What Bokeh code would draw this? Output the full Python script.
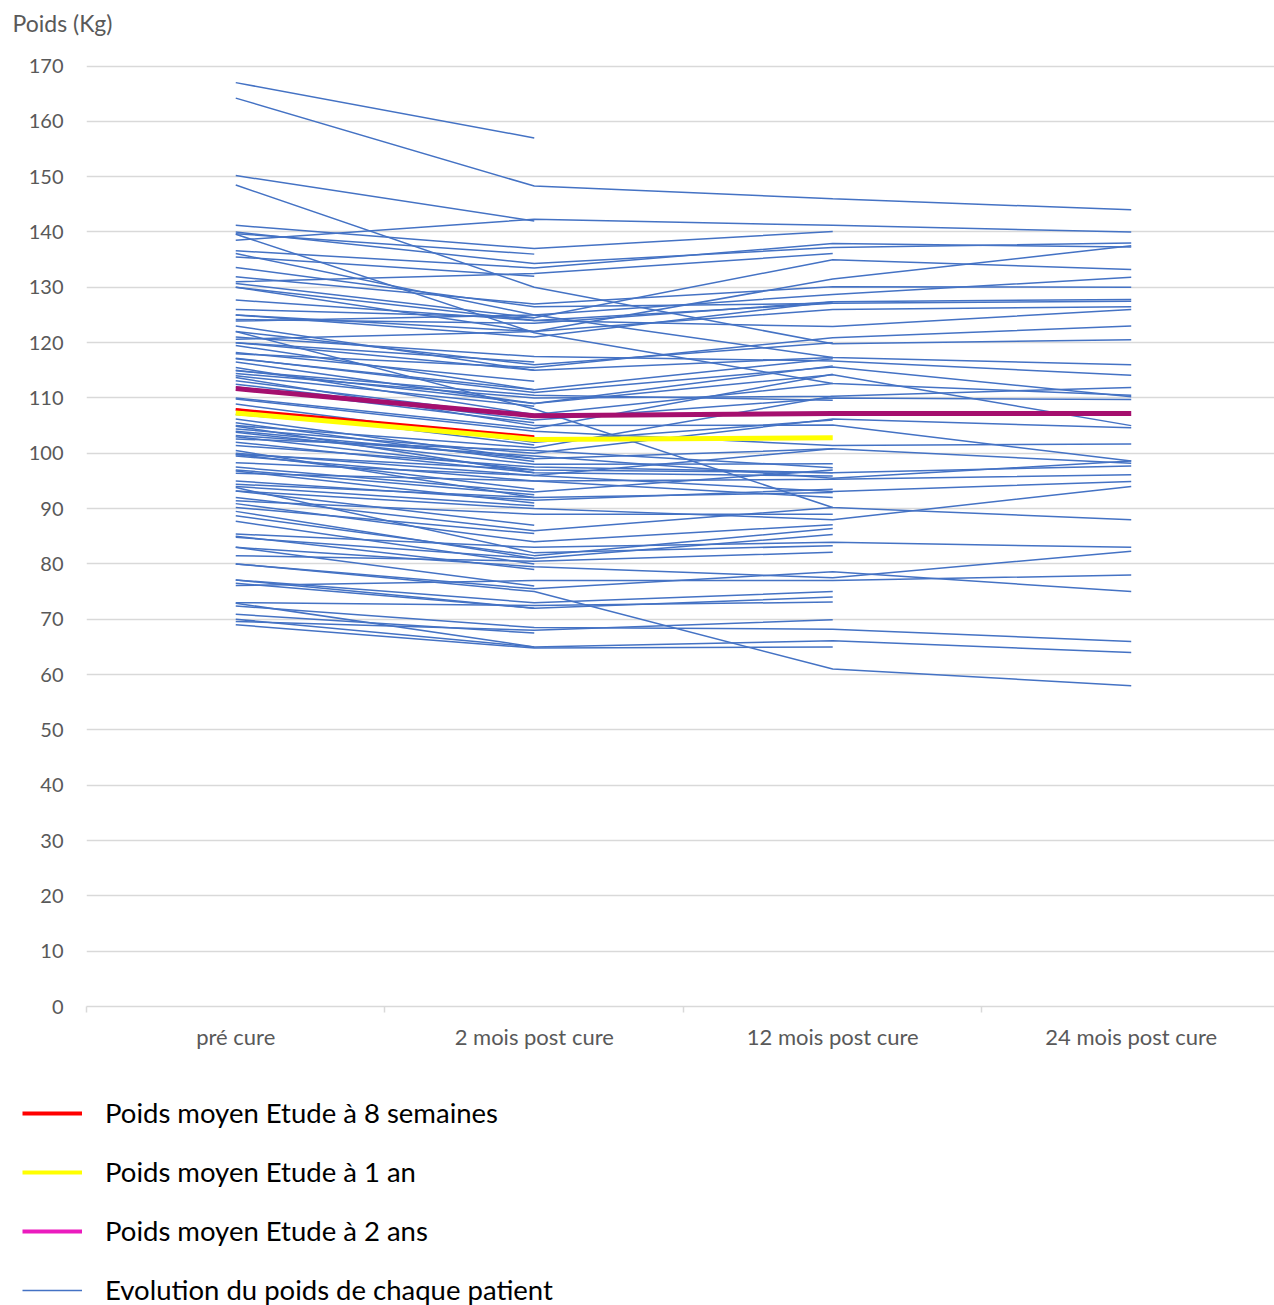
from bokeh.plotting import figure
from bokeh.models import Range1d, FixedTicker, Legend, LegendItem, Label
from bokeh.embed import file_html
from bokeh.resources import INLINE

categories = ["pré cure", "2 mois post cure", "12 mois post cure", "24 mois post cure"]
y_ticks = list(range(0, 171, 10))
y_title = "Poids (Kg)"

# Patients followed 8 weeks: [pré cure, 2 mois]
group_8sem = [
    [167.0, 157.0], [150.2, 142.0], [139.7, 136.0], [135.5, 132.0], [130.0, 122.0],
    [126.0, 124.5], [123.0, 115.0], [120.0, 116.5], [118.2, 113.0], [117.1, 111.5],
    [114.0, 108.5], [113.1, 106.5], [112.0, 105.5], [108.0, 101.5], [107.0, 103.0],
    [105.5, 98.5], [104.0, 99.0], [103.0, 97.0], [102.0, 96.5], [100.5, 92.0],
    [99.8, 93.5], [97.0, 92.5], [96.8, 91.0], [94.0, 90.5], [93.2, 87.0],
    [90.2, 85.5], [89.5, 81.0], [87.7, 80.0], [85.0, 79.0], [83.0, 76.0],
    [77.1, 72.0], [72.9, 65.0], [70.9, 67.5],
]

# Patients followed 1 year: [pré cure, 2 mois, 12 mois]
group_1an = [
    [141.2, 137.0, 140.1], [131.0, 132.5, 136.1], [130.0, 124.0, 127.1], [125.0, 121.0, 127.4],
    [120.0, 115.0, 117.3], [119.5, 111.5, 117.1], [116.5, 109.0, 115.8], [110.0, 104.5, 114.3],
    [114.9, 110.5, 109.6], [108.9, 102.0, 106.0], [103.8, 98.0, 98.1], [102.6, 100.5, 97.4],
    [99.8, 97.0, 96.5], [104.9, 96.5, 95.9], [95.0, 91.5, 93.5], [94.4, 92.0, 92.9],
    [99.5, 95.0, 92.0], [91.4, 89.0, 89.0], [90.9, 84.0, 87.1], [88.7, 81.5, 86.4],
    [84.8, 81.0, 85.3], [93.8, 82.0, 83.3], [81.5, 80.5, 82.1], [77.1, 73.0, 75.0],
    [76.5, 72.0, 74.0], [73.0, 72.5, 73.1], [69.6, 68.0, 69.9], [69.0, 64.8, 65.0],
    [122.0, 116.0, 120.0], [115.5, 107.0, 112.6], [105.0, 101.0, 110.3], [100.0, 96.0, 100.8],
    [97.5, 93.0, 97.0], [92.0, 86.0, 90.2],
]

# Patients followed 2 years: [pré cure, 2 mois, 12 mois, 24 mois]
group_2ans = [
    [164.2, 148.3, 146.0, 144.0], [138.5, 142.3, 141.2, 140.0], [136.6, 133.5, 137.9, 137.3],
    [140.0, 134.3, 137.2, 138.0], [125.0, 122.0, 131.5, 137.5], [130.7, 124.5, 135.0, 133.2],
    [131.9, 127.0, 130.1, 130.0], [123.9, 125.0, 128.7, 131.8], [124.2, 123.5, 127.4, 127.8],
    [133.6, 126.5, 127.1, 127.5], [120.6, 122.0, 126.0, 126.5], [127.7, 124.0, 122.9, 126.0],
    [118.0, 115.5, 120.9, 123.0], [148.5, 130.0, 119.8, 120.5], [136.1, 125.0, 117.3, 116.0],
    [121.0, 117.5, 116.7, 114.1], [139.6, 121.8, 112.6, 110.5], [117.2, 111.0, 115.6, 110.2],
    [114.4, 110.0, 110.3, 111.9], [112.5, 106.0, 110.0, 109.7], [115.0, 109.0, 114.2, 105.0],
    [104.4, 100.0, 106.2, 104.6], [113.7, 105.0, 105.1, 98.6], [109.8, 104.0, 101.4, 101.7],
    [106.2, 99.0, 100.8, 98.2], [101.4, 97.5, 96.5, 97.7], [103.2, 99.5, 95.5, 98.6],
    [98.3, 96.0, 93.1, 94.9], [96.4, 95.0, 95.3, 96.1], [122.0, 108.0, 90.2, 88.0],
    [93.2, 90.0, 88.0, 94.0], [85.4, 83.0, 83.9, 83.0], [83.0, 79.5, 77.5, 82.3],
    [76.1, 77.0, 77.0, 78.0], [80.0, 75.5, 78.6, 75.0], [72.4, 68.5, 68.2, 66.0],
    [70.0, 65.0, 66.1, 64.0], [80.0, 75.0, 61.0, 58.0],
]

mean_8sem = [107.9, 103.0]
mean_1an = [107.3, 102.5, 102.8]
mean_2ans = [111.7, 106.8, 107.2, 107.2]

legend_labels = [
    "Poids moyen Etude à 8 semaines",
    "Poids moyen Etude à 1 an",
    "Poids moyen Etude à 2 ans",
    "Evolution du poids de chaque patient",
]

FONT = "Lato"
GREY = "#595959"
GRID = "#D9D9D9"
BLUE = "#4472C4"

x_pos = [i + 0.5 for i in range(len(categories))]

# Header strip holding the axis title
tf = figure(width=1274, height=40, x_range=Range1d(0, 1), y_range=Range1d(0, 1),
            output_backend="svg", toolbar_location=None,
            x_axis_location=None, y_axis_location=None, min_border=0)
tf.outline_line_color = None
tf.grid.visible = False
tf.add_layout(Label(x=12, y=18, x_units="screen", y_units="screen", text=y_title,
                    text_font=FONT, text_font_size="23px", text_color=GREY,
                    text_baseline="middle", text_align="left"))

p = figure(width=1274, height=1035, x_range=Range1d(0, 3.98), y_range=Range1d(0, 171),
           output_backend="svg", toolbar_location=None,
           min_border_left=86, min_border_right=0, min_border_top=20, min_border_bottom=69)
p.outline_line_color = None
p.background_fill_color = "white"

p.xaxis.ticker = FixedTicker(ticks=x_pos, minor_ticks=[0, 1, 2, 3])
p.xaxis.major_label_overrides = {x: c for x, c in zip(x_pos, categories)}
p.xaxis.major_tick_line_color = None
p.xaxis.minor_tick_out = 6
p.xaxis.minor_tick_in = 0
p.xaxis.minor_tick_line_color = GRID
p.xaxis.minor_tick_line_width = 1.5
p.xaxis.axis_line_color = GRID
p.xaxis.axis_line_width = 1.5
p.xaxis.major_label_standoff = 10
p.xaxis.major_label_text_font = FONT
p.xaxis.major_label_text_font_size = "22px"
p.xaxis.major_label_text_color = GREY

p.yaxis.ticker = FixedTicker(ticks=y_ticks)
p.yaxis.axis_line_color = None
p.yaxis.major_tick_line_color = None
p.yaxis.minor_tick_line_color = None
p.yaxis.major_label_standoff = 17
p.yaxis.major_label_text_font = FONT
p.yaxis.major_label_text_font_size = "20px"
p.yaxis.major_label_text_color = GREY

p.xgrid.visible = False
p.ygrid.ticker = FixedTicker(ticks=y_ticks)
p.ygrid.grid_line_color = GRID
p.ygrid.grid_line_width = 1.5

for group in (group_8sem, group_1an, group_2ans):
    xs = [x_pos[:len(v)] for v in group]
    p.multi_line(xs, group, line_color=BLUE, line_width=1.5)

p.line(x_pos[:len(mean_8sem)], mean_8sem, line_color="#FF0000", line_width=3)
p.line(x_pos[:len(mean_1an)], mean_1an, line_color="#FFFF00", line_width=5)
p.line(x_pos[:len(mean_2ans)], mean_2ans, line_color="#A50F6E", line_width=5)

# Legend panel (separate root so that its frame starts at the page's left edge)
lf = figure(width=1274, height=230, x_range=Range1d(0, 1), y_range=Range1d(0, 1),
            output_backend="svg", toolbar_location=None,
            x_axis_location=None, y_axis_location=None, min_border=0)
lf.outline_line_color = None
lf.grid.visible = False
leg_colors = ["#FF0000", "#FFFF00", "#EB1BBE", BLUE]
leg_widths = [4, 4, 4, 1.5]
items = []
for lab, c, w in zip(legend_labels, leg_colors, leg_widths):
    r = lf.line([0, 1], [-5, -5], line_color=c, line_width=w)
    items.append(LegendItem(label=lab, renderers=[r]))
legend = Legend(items=items, location=(22, -1), margin=0, padding=4,
                border_line_color=None, background_fill_alpha=0,
                glyph_width=60, glyph_height=30, label_height=30, spacing=26,
                label_standoff=23, label_text_font=FONT, label_text_font_size="27.5px",
                label_text_color="#000000")
lf.add_layout(legend)

open("out.html", "w").write(file_html([tf, p, lf], INLINE))
